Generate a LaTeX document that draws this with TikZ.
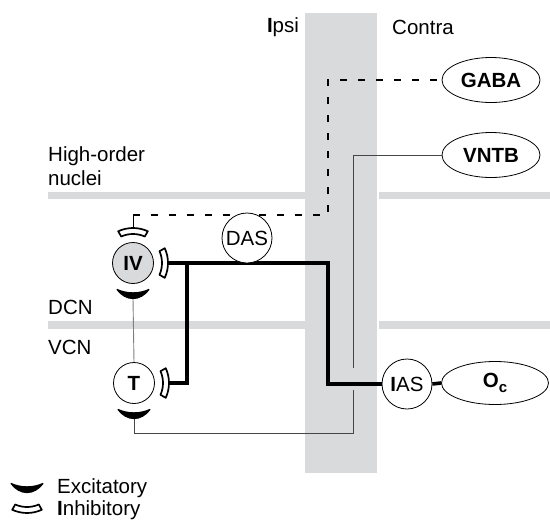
\documentclass[tikz,border=0pt]{standalone}
\usepackage{fontspec}
\setmainfont{Liberation Sans}
\usetikzlibrary{calc,shapes.geometric}
\definecolor{band}{RGB}{217,218,220}
\definecolor{wire}{RGB}{70,70,70}
\begin{document}
\begin{tikzpicture}[x=1pt,y=-1pt,font=\fontsize{20.5}{24}\selectfont,
	cell/.style={circle,draw,line width=0.8pt,inner sep=0pt,minimum size=41pt,fill=white},
	relay/.style={circle,draw,line width=0.8pt,inner sep=0pt,minimum size=50pt,fill=white},
	nucleus/.style={ellipse,draw,line width=0.8pt,inner sep=0pt,minimum width=98pt,minimum height=45pt,fill=white,font=\fontsize{20.5}{24}\selectfont\bfseries},
	axon/.style={line width=3.6pt},
	fibre/.style={line width=0.9pt,draw=wire},
	gaba/.style={line width=1.6pt,dash pattern=on 7pt off 11pt},
	excit/.pic={\filldraw[line width=1.2pt,line join=round] (26.5,-16) .. controls (31,-6) and (31,6) .. (26.5,16) .. controls (38.5,7) and (38.5,-7) .. cycle;},
	inhib/.pic={\draw[line width=1.7pt,line join=round,fill=white] (-24:29) arc[start angle=-24,end angle=24,radius=29] -- (25:35) arc[start angle=25,end angle=-25,radius=35] -- cycle;}]
	\useasboundingbox (0,0) rectangle (550,520);
	% bands
	\fill[band] (48,192) rectangle (305,199);
	\fill[band] (379,192) rectangle (550,199);
	\fill[band] (48,321) rectangle (305,329);
	\fill[band] (379,321) rectangle (550,329);
	\fill[band] (305,13) rectangle (377,473);
	% labels
	\node (ipsi) at (283,27) {\textbf{I}psi};
	\node (contra) at (423,27) {Contra};
	\node[anchor=west,align=left,inner sep=0pt] (hon) at (48,166) {High-order\\nuclei};
	\node[anchor=west,inner sep=0pt] (dcn) at (48,307) {DCN};
	\node[anchor=west,inner sep=0pt] (vcn) at (48,347) {VCN};
	% cells and nuclei
	\node[cell,fill=band] (IV) at (133,263) {\textbf{IV}};
	\node[cell] (T) at (134,383) {\textbf{T}};
	\node[nucleus] (GABA) at (491,80) {GABA};
	\node[nucleus] (VNTB) at (491,155) {VNTB};
	\node[nucleus,minimum width=107pt,minimum height=43pt] (Oc) at (495,383) {O\raisebox{-0.4ex}{\fontsize{15}{17}\selectfont c}};
	\coordinate (ivin) at ($(IV)+(0,-35)$);
	\coordinate (ivex) at ($(IV)+(0,35)$);
	\coordinate (ivrt) at ($(IV)+(35,0)$);
	\coordinate (trt) at ($(T)+(35,0)$);
	\coordinate (tex) at ($(T)+(0,35)$);
	\coordinate (gapa) at (353,368);
	\coordinate (gapb) at (353,390);
	% connections
	\draw[fibre,draw=gray] (ivex) -- (T.north);
	\draw[fibre] (VNTB.west) -| (gapa);
	\draw[fibre] (gapb) -- (353,433) -| (tex);
	\draw (ivin) -- ++(0,-13) coordinate (gstem);
	\draw[gaba] (gstem) -- ++(195,0) |- (GABA.west);
	\draw[axon] (ivrt) -- ++(160,0) coordinate (bend) |- (382,384) coordinate (iasin);
	\draw[axon] (trt) -| ($(ivrt)+(19,0)$);
	\node[relay] (DAS) at (247,238) {DAS};
	\node[relay] (IAS) at (407,384) {\textbf{I}AS};
	\draw[axon] (IAS.east) -- (Oc.west);
	% synapses
	\pic[rotate=90] at (IV) {inhib};
	\pic[rotate=-90] at (IV) {excit};
	\pic at (IV) {inhib};
	\pic at (T) {inhib};
	\pic[rotate=-90] at (T) {excit};
	% legend
	\pic[rotate=-90] at (27,457) {excit};
	\pic[rotate=-90] at (27,478) {inhib};
	\node[anchor=west,inner sep=0pt] (exl) at (57,488) {Excitatory};
	\node[anchor=west,inner sep=0pt] (inl) at (57,510) {\textbf{I}nhibitory};
\end{tikzpicture}
\end{document}
